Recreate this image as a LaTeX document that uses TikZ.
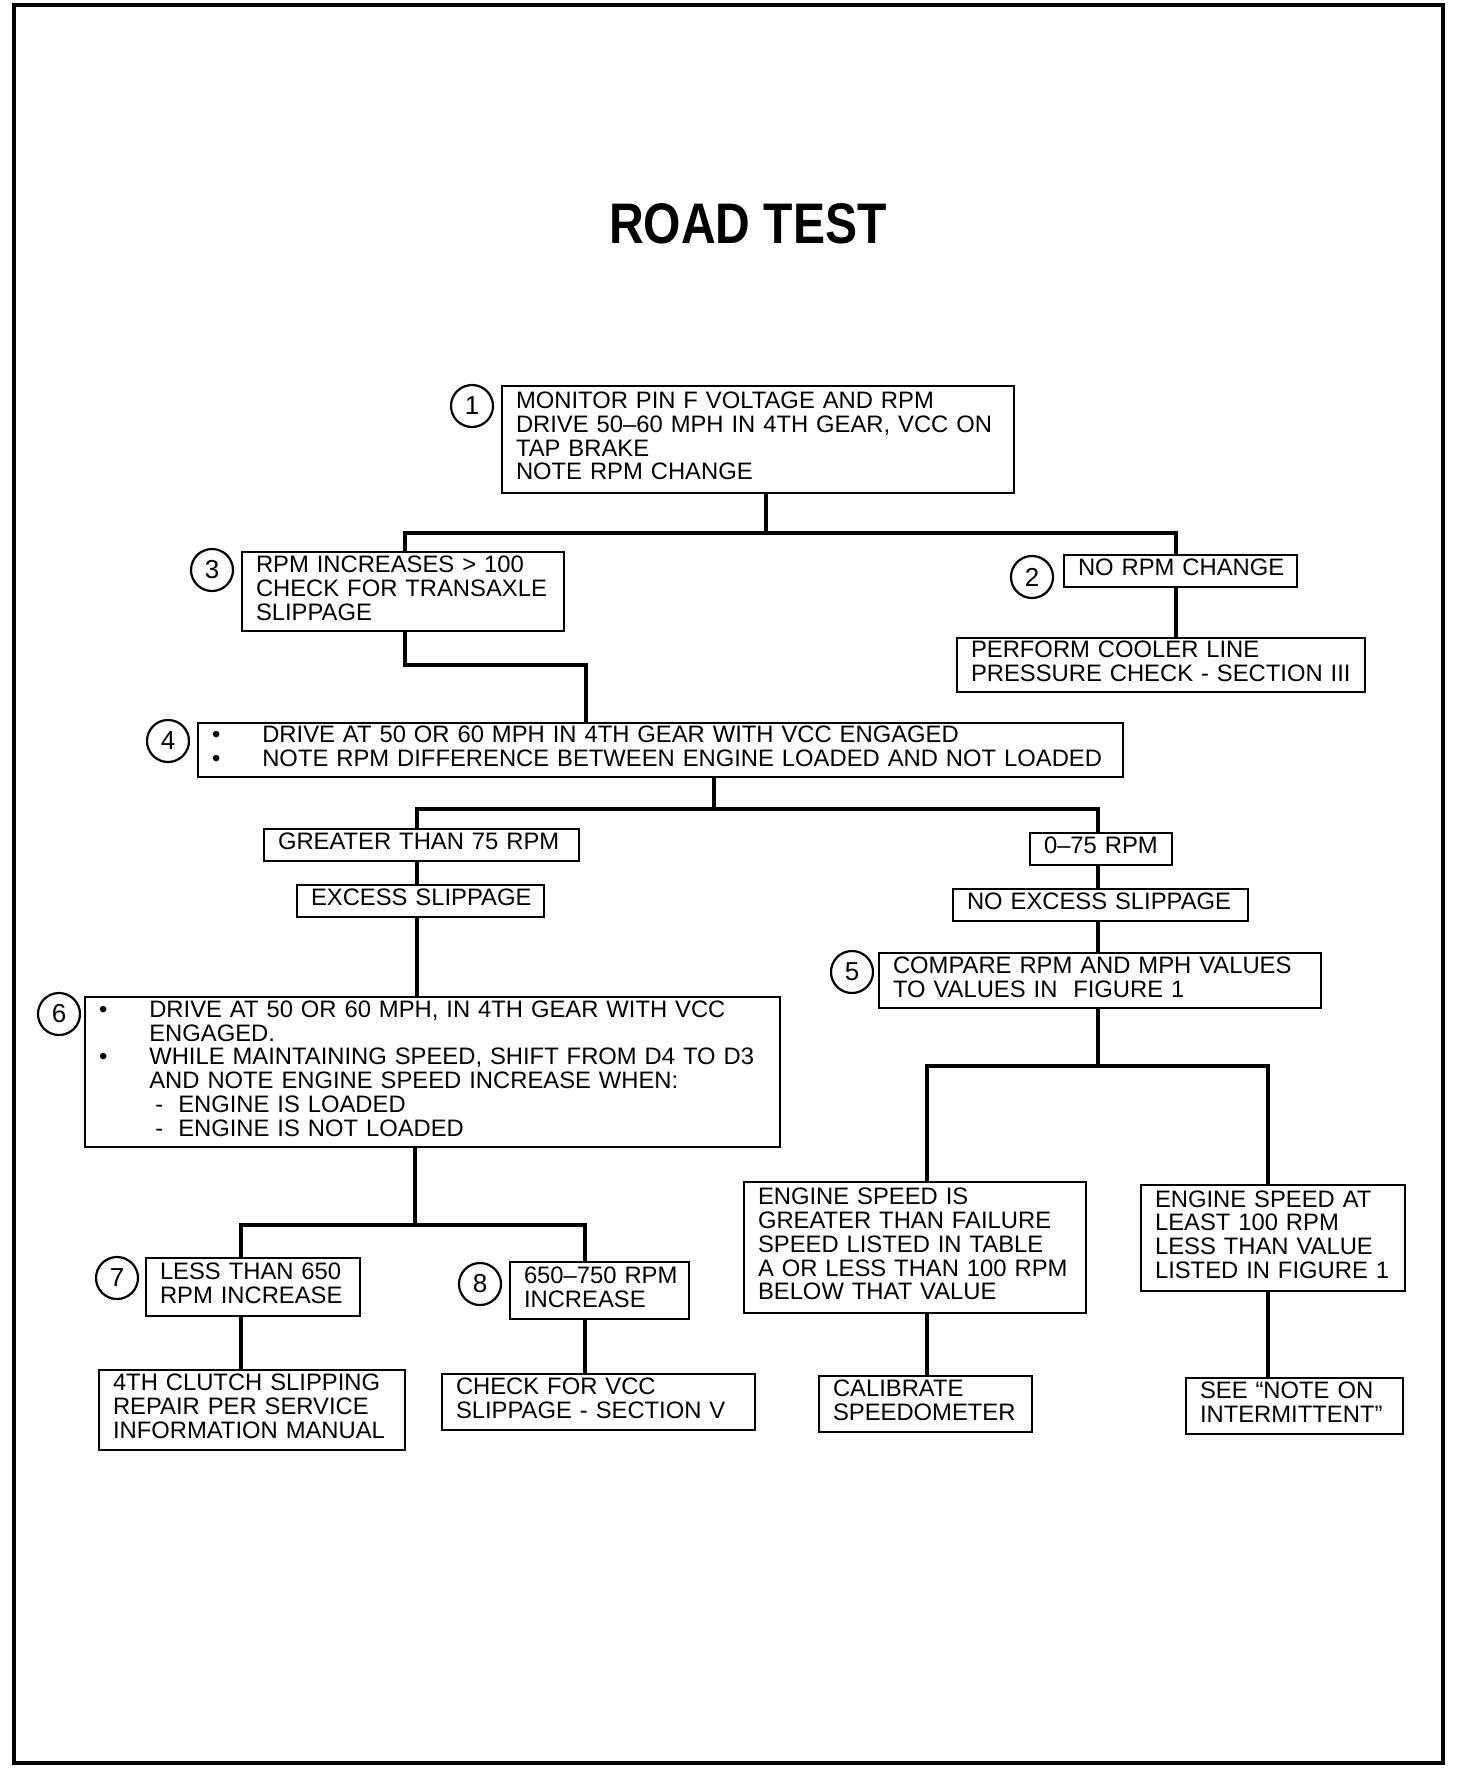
\documentclass[tikz,border=0pt]{standalone}
\usepackage{fontspec}
\setmainfont{Liberation Sans}
\newfontfamily\titlefont[FakeStretch=0.84]{Liberation Sans}
\newcommand\rows[1]{\begin{tabular}{@{}l@{}}#1\end{tabular}}
\newcommand\bulrows[1]{\begin{tabular}{@{}l@{\hspace{21pt}}l@{}}#1\end{tabular}}

\begin{document}
\begin{tikzpicture}[x=0.5pt, y=-0.5pt,
    stepbox/.style 2 args={draw, line width=1.15pt, inner xsep=7pt, inner ysep=1pt,
      text width=#1, minimum height=#2, align=left,
      font=\fontsize{11.9}{11.9}\selectfont},
    num/.style={circle, draw, line width=1.1pt, minimum size=21pt, inner sep=0pt,
      font=\fontsize{13}{13}\selectfont},
    link/.style={line width=1.7pt}]

  \useasboundingbox (0,0) rectangle (1456,1776);
  \draw[line width=2pt] (14,5) rectangle (1443,1763);

  \node (title) at (748,224) {\fontsize{28.6}{30}\selectfont\titlefont\bfseries ROAD TEST};

  % top of the chart
  \node[stepbox={242pt}{53.5pt}] (b1) at (758,439.5)
    {\rows{MONITOR PIN F VOLTAGE AND RPM\\DRIVE 50–60 MPH IN 4TH GEAR, VCC ON\\TAP BRAKE\\NOTE RPM CHANGE}};
  \node[num] (n1) at (472,406) {1};

  \node[stepbox={147pt}{39.5pt}] (b3) at (403,591.5)
    {\rows{RPM INCREASES > 100\\CHECK FOR TRANSAXLE\\SLIPPAGE}};
  \node[num] (n3) at (212,570) {3};

  \node[stepbox={102.5pt}{16pt}] (b2) at (1180.5,571) {\rows{NO RPM CHANGE}};
  \node[num] (n2) at (1032,577) {2};

  \node[stepbox={190pt}{27pt}] (pc) at (1161,665)
    {\rows{PERFORM COOLER LINE\\PRESSURE CHECK - SECTION III}};

  \node[stepbox={448.5pt}{27pt}] (b4) at (660.5,750)
    {\bulrows{\textbullet & DRIVE AT 50 OR 60 MPH IN 4TH GEAR WITH VCC ENGAGED\\
      \textbullet & NOTE RPM DIFFERENCE BETWEEN ENGINE LOADED AND NOT LOADED}};
  \node[num] (n4) at (168,741) {4};

  % left branch
  \node[stepbox={143.5pt}{16pt}] (gt) at (421.5,845) {\rows{GREATER THAN 75 RPM}};
  \node[stepbox={109.5pt}{16pt}] (ex) at (420.5,901) {\rows{EXCESS SLIPPAGE}};

  \node[stepbox={333.5pt}{75pt}] (b6) at (432.5,1072)
    {\bulrows{\textbullet & DRIVE AT 50 OR 60 MPH, IN 4TH GEAR WITH VCC\\
      & ENGAGED.\\
      \textbullet & WHILE MAINTAINING SPEED, SHIFT FROM D4 TO D3\\
      & AND NOTE ENGINE SPEED INCREASE WHEN:\\
      & \hspace{3pt}-\hspace{7.5pt}ENGINE IS LOADED\\
      & \hspace{3pt}-\hspace{7.5pt}ENGINE IS NOT LOADED}};
  \node[num] (n6) at (59,1014) {6};

  \node[stepbox={93pt}{29pt}] (b7) at (253,1287) {\rows{LESS THAN 650\\RPM INCREASE}};
  \node[num] (n7) at (117,1278) {7};
  \node[stepbox={75.5pt}{28.5pt}] (b8) at (599.5,1290.5) {\rows{650–750 RPM\\INCREASE}};
  \node[num] (n8) at (480,1284) {8};

  \node[stepbox={139pt}{40pt}] (fth) at (252,1410)
    {\rows{4TH CLUTCH SLIPPING\\REPAIR PER SERVICE\\INFORMATION MANUAL}};
  \node[stepbox={142.5pt}{28pt}] (chk) at (598.5,1402)
    {\rows{CHECK FOR VCC\\SLIPPAGE - SECTION V}};

  % right branch
  \node[stepbox={57pt}{16pt}] (lt) at (1101,849) {\rows{0–75 RPM}};
  \node[stepbox={133.5pt}{16pt}] (nx) at (1100.5,905) {\rows{NO EXCESS SLIPPAGE}};

  \node[stepbox={207pt}{27.5pt}] (b5) at (1100,980.5)
    {\rows{COMPARE RPM AND MPH VALUES\\TO VALUES IN~~FIGURE 1}};
  \node[num] (n5) at (852,972) {5};

  \node[stepbox={157pt}{65.5pt}] (eis) at (915,1247.5)
    {\rows{ENGINE SPEED IS\\GREATER THAN FAILURE\\SPEED LISTED IN TABLE\\A OR LESS THAN 100 RPM\\BELOW THAT VALUE}};
  \node[stepbox={118pt}{53pt}] (eat) at (1273,1238)
    {\rows{ENGINE SPEED AT\\LEAST 100 RPM\\LESS THAN VALUE\\LISTED IN FIGURE 1}};

  \node[stepbox={92.5pt}{28pt}] (cal) at (925.5,1404) {\rows{CALIBRATE\\SPEEDOMETER}};
  \node[stepbox={94.5pt}{28pt}] (see) at (1294.5,1406) {\rows{SEE “NOTE ON\\INTERMITTENT”}};

  % connectors
  \coordinate (j1) at (766,533);  \coordinate (j1l) at (405,533);  \coordinate (j1r) at (1176,533);
  \coordinate (j2l) at (405,665); \coordinate (j2r) at (586,665);
  \coordinate (j3) at (714,809);  \coordinate (j3l) at (417,809);  \coordinate (j3r) at (1098,809);
  \coordinate (j4) at (1098,1066); \coordinate (j4l) at (927,1066); \coordinate (j4r) at (1268,1066);
  \coordinate (j5) at (415,1225); \coordinate (j5l) at (241,1225); \coordinate (j5r) at (585,1225);

  \draw[link] (j1 |- b1.south) -- (j1);
  \draw[link] (j1l |- b3.north) -- (j1l) -- (j1r) -- (j1r |- b2.north);
  \draw[link] (j1r |- b2.south) -- (j1r |- pc.north);
  \draw[link] (j2l |- b3.south) -- (j2l) -- (j2r) -- (j2r |- b4.north);

  \draw[link] (j3 |- b4.south) -- (j3);
  \draw[link] (j3l |- gt.north) -- (j3l) -- (j3r) -- (j3r |- lt.north);
  \draw[link] (j3l |- gt.south) -- (j3l |- ex.north);
  \draw[link] (j3l |- ex.south) -- (j3l |- b6.north);
  \draw[link] (j3r |- lt.south) -- (j3r |- nx.north);
  \draw[link] (j3r |- nx.south) -- (j3r |- b5.north);

  \draw[link] (j4 |- b5.south) -- (j4);
  \draw[link] (j4l |- eis.north) -- (j4l) -- (j4r) -- (j4r |- eat.north);
  \draw[link] (j4l |- eis.south) -- (j4l |- cal.north);
  \draw[link] (j4r |- eat.south) -- (j4r |- see.north);

  \draw[link] (j5 |- b6.south) -- (j5);
  \draw[link] (j5l |- b7.north) -- (j5l) -- (j5r) -- (j5r |- b8.north);
  \draw[link] (j5l |- b7.south) -- (j5l |- fth.north);
  \draw[link] (j5r |- b8.south) -- (j5r |- chk.north);
\end{tikzpicture}
\end{document}
